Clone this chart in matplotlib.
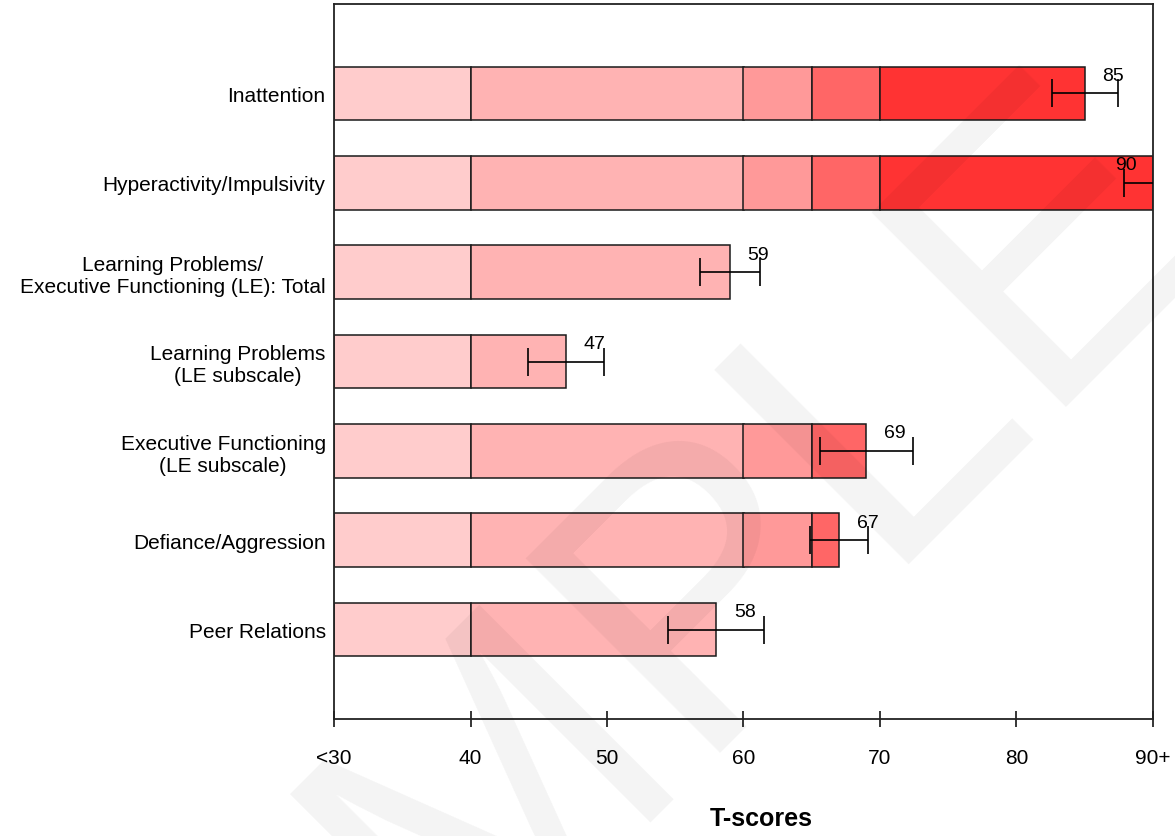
import matplotlib
matplotlib.use("Agg")
import matplotlib.pyplot as plt

plt.rcParams['font.family'] = ['Liberation Sans', 'DejaVu Sans']

# ---- data ----
categories = [
    "Inattention",
    "Hyperactivity/Impulsivity",
    "Learning Problems/\nExecutive Functioning (LE): Total",
    "Learning Problems\n(LE subscale)",
    "Executive Functioning\n(LE subscale)",
    "Defiance/Aggression",
    "Peer Relations",
]
scores = [85, 90, 59, 47, 69, 67, 58]
errors = [2.4, 2.1, 2.2, 2.8, 3.4, 2.15, 3.5]
score_labels = ["85", "90", "59", "47", "69", "67", "58"]

band_edges = [30, 40, 60, 65, 70, 90]
band_colors = ["#FFCCCC", "#FFB3B3", "#FF9999", "#FF6666", "#FF3333"]

xticks = [30, 40, 50, 60, 70, 80, 90]
xtick_labels = ["<30", "40", "50", "60", "70", "80", "90+"]

# ---- figure ----
fig = plt.figure(figsize=(11.75, 8.37), dpi=100)
ax = fig.add_axes([334/1175, 1 - 720/837, (1153 - 334)/1175, (720 - 5)/837])

ypos = list(range(len(categories)))
bar_h = 0.6

for i, v in enumerate(scores):
    for k in range(len(band_colors)):
        lo, hi = band_edges[k], band_edges[k + 1]
        if v > lo:
            ax.barh(i, min(v, hi) - lo, left=lo, height=bar_h,
                    color=band_colors[k], edgecolor="#1a1a1a", linewidth=1.1, zorder=2)

ax.errorbar(scores, ypos, xerr=errors, fmt="none", ecolor="black",
            elinewidth=1.2, capsize=10, capthick=1.2, zorder=3)

for i, (v, e, lab) in enumerate(zip(scores, errors, score_labels)):
    lx = v + 2.1 if v + 2.1 < 89 else v - 2.0
    ax.text(lx, i - 0.2, lab, ha="center", va="center", fontsize=14, color="black", zorder=4)

ax.set_xlim(30, 90)
ax.set_ylim(7, -1)
ax.set_yticks(ypos)
ax.set_yticklabels(categories, fontsize=15, multialignment="center")
ax.tick_params(axis="y", length=0, pad=6)
ax.set_xticks(xticks)
ax.set_xticklabels(xtick_labels, fontsize=15)
ax.tick_params(axis="x", direction="inout", length=12, width=1.1, pad=15)

for s in ax.spines.values():
    s.set_color("#222222")
    s.set_linewidth(1.3)

ax.set_xlabel("T-scores", fontsize=18, fontweight="bold")
ax.xaxis.set_label_coords(0.5214, -0.122)

# watermark
fig.text(80/1175, 1 - 1375/837, "SAMPLE", rotation=45, rotation_mode="anchor",
         ha="left", va="baseline", fontsize=288, color="black", alpha=0.048, zorder=10)

fig.savefig("out.png", dpi=100)
